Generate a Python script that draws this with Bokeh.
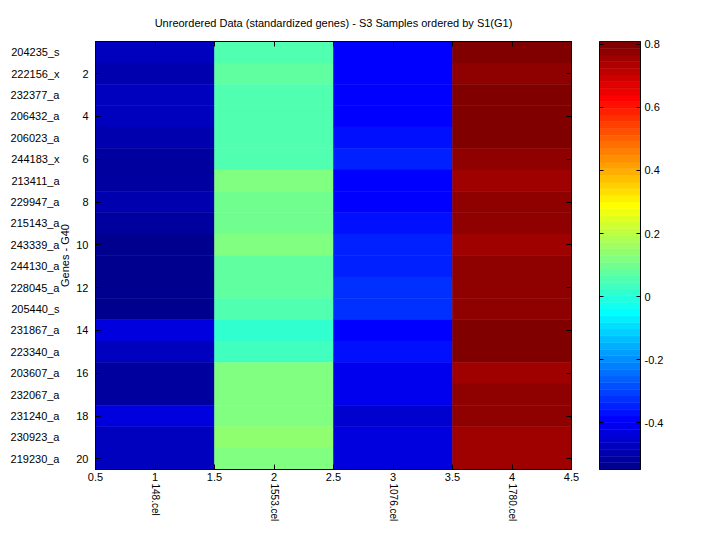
import math
from bokeh.plotting import figure
from bokeh.layouts import row
from bokeh.models import (LinearColorMapper, LinearAxis, FixedTicker, ColumnDataSource,
                          Range1d, CustomJSTickFormatter, CustomLabelingPolicy)
from bokeh.transform import transform
from bokeh.embed import file_html
from bokeh.resources import INLINE

# ---------------- data ----------------
genes = ["204235_s", "222156_x", "232377_a", "206432_a", "206023_a",
         "244183_x", "213411_a", "229947_a", "215143_a", "243339_a",
         "244130_a", "228045_a", "205440_s", "231867_a", "223340_a",
         "203607_a", "232067_a", "231240_a", "230923_a", "219230_a"]
samples = ["148.cel", "1553.cel", "1076.cel", "1780.cel"]

s148 = [-0.472, -0.497, -0.476, -0.470, -0.490, -0.515, -0.520, -0.493, -0.512, -0.535,
        -0.540, -0.548, -0.538, -0.430, -0.478, -0.518, -0.514, -0.433, -0.469, -0.475]
s1553 = [0.058, 0.075, 0.052, 0.061, 0.055, 0.049, 0.121, 0.098, 0.103, 0.118,
         0.079, 0.071, 0.060, 0.012, 0.036, 0.125, 0.116, 0.112, 0.140, 0.119]
s1076 = [-0.390, -0.385, -0.392, -0.388, -0.366, -0.345, -0.384, -0.391, -0.362, -0.343,
         -0.350, -0.328, -0.322, -0.389, -0.370, -0.410, -0.405, -0.452, -0.430, -0.426]
s1780 = [0.805, 0.775, 0.800, 0.809, 0.796, 0.772, 0.755, 0.778, 0.770, 0.752,
         0.776, 0.780, 0.768, 0.798, 0.792, 0.758, 0.771, 0.783, 0.757, 0.750]

x_ticks = [0.5, 1, 1.5, 2, 2.5, 3, 3.5, 4, 4.5]
y_ticks = [2, 4, 6, 8, 10, 12, 14, 16, 18, 20]
cbar_ticks = [-0.4, -0.2, 0, 0.2, 0.4, 0.6, 0.8]

# ---------------- jet(64) colormap ----------------
def jet64():
    cols = []
    for k in range(64):
        if k <= 7:
            r, g, b = 0, 0, (9 + k) / 16
        elif k <= 23:
            r, g, b = 0, (k - 7) / 16, 1
        elif k <= 39:
            r, g, b = (k - 23) / 16, 1, (39 - k) / 16
        elif k <= 55:
            r, g, b = 1, (55 - k) / 16, 0
        else:
            r, g, b = (71 - k) / 16, 0, 0
        cols.append("#%02x%02x%02x" % (round(r * 255), round(g * 255), round(b * 255)))
    return cols

palette = jet64()
series = [s148, s1553, s1076, s1780]
xs, ys, vs = [], [], []
for ci, col in enumerate(series):
    for ri, v in enumerate(col):
        xs.append(ci + 1)
        ys.append(ri + 1)
        vs.append(v)
allv = s148 + s1553 + s1076 + s1780
vmin, vmax = min(allv), max(allv)
mapper = LinearColorMapper(palette=palette, low=vmin, high=vmax)
src = ColumnDataSource(dict(x=xs, y=ys, v=vs))

FONT = "Liberation Sans"
FS = "11px"
H = 524
TOP = 41
BOTTOM = 54
NO_LABELS = CustomLabelingPolicy(code="return [];")
EMPTY = CustomJSTickFormatter(code="return '';")

def style_axis(ax, show_labels=True):
    ax.major_tick_in = 5
    ax.major_tick_out = 0
    ax.minor_tick_in = 0
    ax.minor_tick_out = 0
    ax.minor_tick_line_color = None
    ax.axis_line_color = "black"
    ax.major_tick_line_color = "black"
    ax.major_label_text_font = FONT
    ax.major_label_text_font_size = FS
    ax.major_label_text_color = "black"
    if not show_labels:
        ax.formatter = EMPTY
        ax.major_label_policy = NO_LABELS
        ax.major_label_standoff = 0

p = figure(width=599, height=H, x_range=Range1d(0.5, 4.5), y_range=Range1d(20.5, 0.5),
           output_backend="svg", toolbar_location=None,
           title="Unreordered Data (standardized genes) - S3 Samples ordered by S1(G1)",
           min_border_left=95, min_border_right=28, min_border_top=TOP, min_border_bottom=BOTTOM)
p.title.align = "center"
p.title.text_font = FONT
p.title.text_font_size = FS
p.title.text_font_style = "normal"
p.title.text_color = "black"
p.title.standoff = 26
p.grid.visible = False
p.outline_line_color = "black"

p.rect(x="x", y="y", width=1, height=1, source=src,
       fill_color=transform("v", mapper), line_color=transform("v", mapper), line_width=0.5)

# bottom numeric x axis
xa = p.xaxis[0]
xa.ticker = FixedTicker(ticks=x_ticks)
xa.formatter = CustomJSTickFormatter(code="return tick.toString();")
style_axis(xa)
xa.major_label_standoff = 3

# sample-name axis below
sa = LinearAxis(ticker=FixedTicker(ticks=[1, 2, 3, 4]),
                formatter=CustomJSTickFormatter(args=dict(labels=samples),
                                                code="return labels[Math.round(tick)-1];"))
style_axis(sa)
sa.major_tick_line_color = None
sa.axis_line_color = None
sa.major_label_text_font_size = "10px"
sa.major_label_orientation = -math.pi / 2
sa.major_label_standoff = 0
p.add_layout(sa, "below")

# left numeric y axis
ya = p.yaxis[0]
ya.ticker = FixedTicker(ticks=y_ticks)
style_axis(ya)
ya.major_label_standoff = 7
ya.axis_label = "Genes - G40"
ya.axis_label_text_font = FONT
ya.axis_label_text_font_size = FS
ya.axis_label_text_font_style = "normal"
ya.axis_label_text_color = "black"
ya.axis_label_standoff = 2

# gene-name axis on the left
ga = LinearAxis(ticker=FixedTicker(ticks=list(range(1, 21))),
                formatter=CustomJSTickFormatter(args=dict(labels=genes),
                                                code="return labels[Math.round(tick)-1];"))
style_axis(ga)
ga.major_tick_line_color = None
ga.axis_line_color = None
ga.major_label_standoff = -3
p.add_layout(ga, "left")

# top and right axes: inward ticks only
ta = LinearAxis(ticker=FixedTicker(ticks=x_ticks))
style_axis(ta, show_labels=False)
p.add_layout(ta, "above")
ra = LinearAxis(ticker=FixedTicker(ticks=y_ticks))
style_axis(ra, show_labels=False)
p.add_layout(ra, "right")

# ---------------- colour bar as its own small figure ----------------
n = len(palette)
step = (vmax - vmin) / n
cb_src = ColumnDataSource(dict(bottom=[vmin + k * step for k in range(n)],
                               top=[vmin + (k + 1) * step for k in range(n)],
                               color=palette))
p2 = figure(width=105, height=H, x_range=Range1d(0, 1), y_range=Range1d(vmin, vmax),
            output_backend="svg", toolbar_location=None,
            min_border_left=0, min_border_right=64, min_border_top=TOP, min_border_bottom=BOTTOM)
p2.grid.visible = False
p2.outline_line_color = "black"
p2.xaxis.visible = False
p2.yaxis.visible = False
p2.quad(left=0, right=1, bottom="bottom", top="top", fill_color="color", line_color="color",
        line_width=0.5, source=cb_src)
cr = LinearAxis(ticker=FixedTicker(ticks=cbar_ticks),
                formatter=CustomJSTickFormatter(code="return (Math.round(tick*10)/10).toString();"))
style_axis(cr)
cr.major_tick_in = 4
cr.major_label_standoff = 4
p2.add_layout(cr, "right")
cl = LinearAxis(ticker=FixedTicker(ticks=cbar_ticks))
style_axis(cl, show_labels=False)
cl.major_tick_in = 4
p2.add_layout(cl, "left")

layout = row(p, p2)
open("out.html", "w").write(file_html(layout, INLINE))
